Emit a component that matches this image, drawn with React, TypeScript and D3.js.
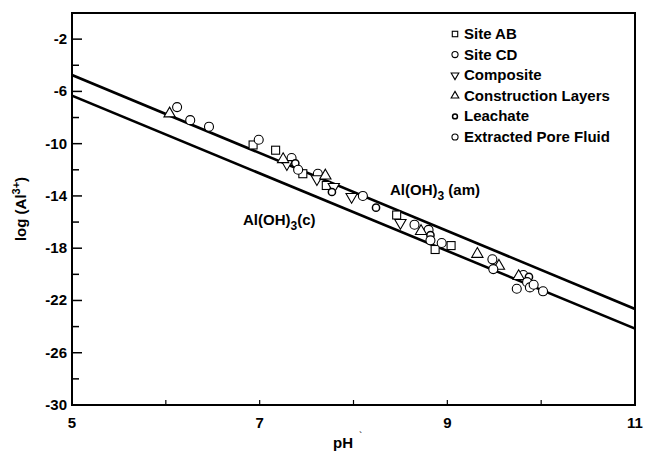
import React from 'react'
import * as d3 from 'd3'

// pH vs log(Al3+)
const siteAB = [[6.93, -10.1], [7.17, -10.5], [7.46, -12.3], [7.71, -13.2], [8.46, -15.46], [8.87, -18.1], [9.04, -17.8]]
const siteCD = [[6.12, -7.2], [6.26, -8.2], [6.46, -8.7], [6.99, -9.7], [7.34, -11.1], [7.62, -12.3], [8.1, -14.0], [8.65, -16.2], [8.8, -16.6], [9.48, -18.85], [9.81, -20.05]]
const composite = [[7.29, -11.55], [7.61, -12.7], [7.79, -13.3], [7.98, -14.06], [8.5, -16.05]]
const construction = [[6.04, -7.7], [7.25, -11.2], [7.7, -12.45], [8.72, -16.7], [9.32, -18.45], [9.55, -19.36], [9.76, -20.15]]
const leachate = [[7.38, -11.5], [7.77, -13.7], [8.24, -14.9], [8.82, -17.0], [9.87, -20.2]]
const poreFluid = [[7.41, -12.0], [8.82, -17.4], [8.94, -17.6], [9.49, -19.6], [9.85, -20.6], [9.88, -21.0], [9.74, -21.1], [10.02, -21.3], [9.92, -20.8]]

// solubility lines
const amLine = [[5, -4.75], [11, -22.65]]
const cLine = [[5, -6.33], [11, -24.15]]

const xTicks = [5, 6, 7, 8, 9, 10, 11]
const xLabels = [5, 7, 9, 11]
const yTicks = d3.range(-30, 0, 2)
const yLabels = [-2, -6, -10, -14, -18, -22, -26, -30]

const legendNames = ['Site AB', 'Site CD', 'Composite', 'Construction Layers', 'Leachate', 'Extracted Pore Fluid']
const legendShapes = ['square', 'circle', 'down', 'up', 'small', 'circle']

const font = 'Liberation Sans, Arial, sans-serif'

function Marker({shape, x, y, s = 1}: {shape: string; x: number; y: number; s?: number}) {
  const common = {fill: 'white', stroke: 'black', strokeWidth: 1.1}
  if (shape === 'square') return <rect x={x - 4 * s} y={y - 4 * s} width={8 * s} height={8 * s} {...common} />
  if (shape === 'circle') return <circle cx={x} cy={y} r={4.5 * s} {...common} />
  if (shape === 'small') return <circle cx={x} cy={y} r={3.6 * s} {...common} strokeWidth={1.5} />
  const tri = d3.symbol(d3.symbolTriangle, 55 * s * s)()
  return <path d={tri as string} transform={`translate(${x},${y}) rotate(${shape === 'down' ? 180 : 0})`} {...common} />
}

export default function App() {
  const x = d3.scaleLinear().domain([5, 11]).range([72, 635])
  const y = d3.scaleLinear().domain([-30, 0]).range([405, 13])
  const line = d3.line<number[]>().x(d => x(d[0])).y(d => y(d[1]))

  const series: [number[][], string][] = [
    [siteAB, 'square'],
    [siteCD, 'circle'],
    [composite, 'down'],
    [construction, 'up'],
    [leachate, 'small'],
    [poreFluid, 'circle'],
  ]

  return (
    <svg width={646} height={454} style={{position: 'absolute', left: 0, top: 0, background: 'white'}} fontFamily={font}>
      <defs>
        <clipPath id="plot">
          <rect x={x(5)} y={y(0)} width={x(11) - x(5)} height={y(-30) - y(0)} />
        </clipPath>
      </defs>

      <g clipPath="url(#plot)">
        <path d={line(amLine) as string} fill="none" stroke="black" strokeWidth={2.6} />
        <path d={line(cLine) as string} fill="none" stroke="black" strokeWidth={2.6} />
        {series.map(([pts, shape], i) =>
          pts.map((p, j) => <Marker key={`${i}-${j}`} shape={shape} x={x(p[0])} y={y(p[1])} />)
        )}
      </g>

      {/* frame */}
      <rect x={x(5)} y={y(0)} width={x(11) - x(5)} height={y(-30) - y(0)} fill="none" stroke="black" strokeWidth={2} />

      {/* x axis */}
      {xTicks.map(t => (
        <line key={t} x1={x(t)} x2={x(t)} y1={y(-30)} y2={y(-30) - 5} stroke="black" strokeWidth={1.2} />
      ))}
      {xLabels.map(t => (
        <text key={t} x={x(t)} y={428} textAnchor="middle" fontSize={15} fontWeight="bold">{t}</text>
      ))}
      <text x={343} y={448} textAnchor="middle" fontSize={15} fontWeight="bold">pH</text>
      <text x={359} y={440} fontSize={10}>`</text>

      {/* y axis */}
      {yTicks.map(t => (
        <line key={t} x1={x(5)} x2={x(5) + (yLabels.includes(t) ? 10 : 7)} y1={y(t)} y2={y(t)} stroke="black" strokeWidth={1.5} />
      ))}
      {yLabels.map(t => (
        <text key={t} x={67} y={y(t) + 5} textAnchor="end" fontSize={15} fontWeight="bold">{t}</text>
      ))}
      <text transform={`translate(26,${y(-15)}) rotate(-90)`} textAnchor="middle" fontSize={15} fontWeight="bold">
        log (Al<tspan dy={-6} fontSize={11}>3+</tspan><tspan dy={6}>)</tspan>
      </text>

      {/* line labels */}
      <text x={390} y={195} fontSize={15} fontWeight="bold">
        Al(OH)<tspan dy={5} fontSize={12}>3</tspan><tspan dy={-5}> (am)</tspan>
      </text>
      <text x={243} y={225} fontSize={15} fontWeight="bold">
        Al(OH)<tspan dy={5} fontSize={12}>3</tspan><tspan dy={-5}>(c)</tspan>
      </text>

      {/* legend */}
      {legendNames.map((name, i) => (
        <g key={name}>
          <Marker shape={legendShapes[i]} x={455} y={34 + i * 20.6} s={0.68} />
          <text x={464} y={34 + i * 20.6 + 5} fontSize={15} fontWeight="bold">{name}</text>
        </g>
      ))}
    </svg>
  )
}
